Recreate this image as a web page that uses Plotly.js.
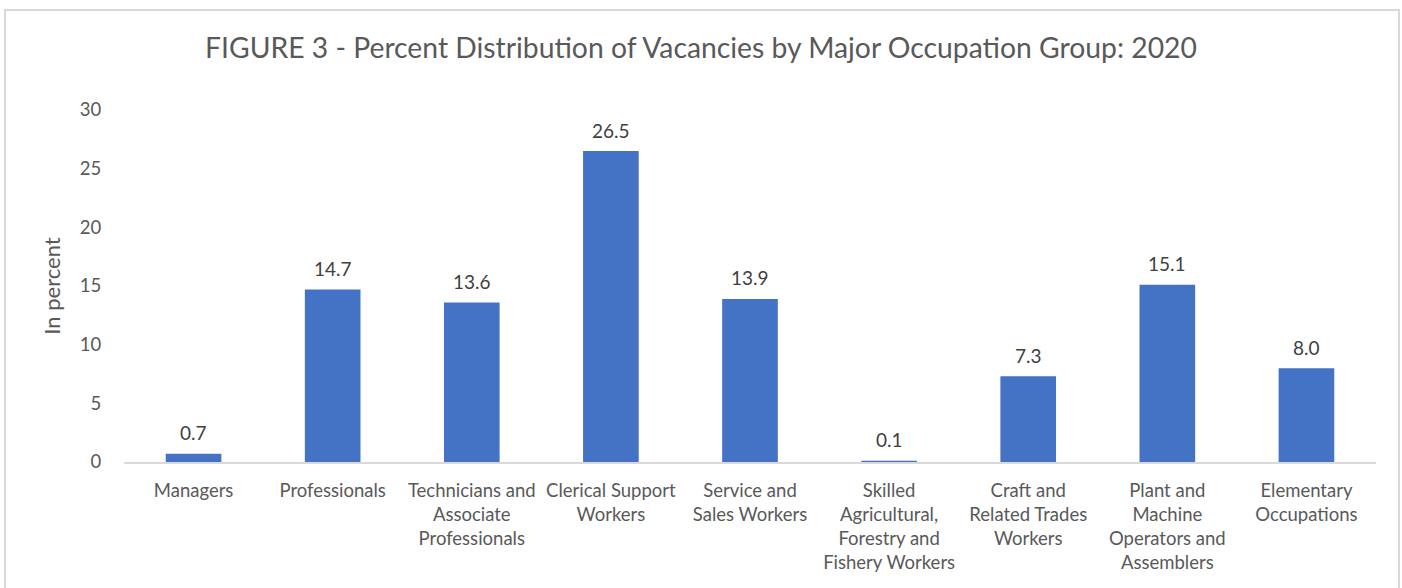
<!DOCTYPE html>
<html>
<head>
<meta charset="utf-8">
<script src="https://cdn.plot.ly/plotly-3.0.1.min.js"></script>
<style>
  html, body { margin: 0; padding: 0; background: #ffffff; overflow: hidden; }
  #chart { width: 1402px; height: 588px; }
  #frame { position: absolute; left: 4px; top: 9px; width: 1392px; height: 600px;
           border: 2px solid #d9d9d9; pointer-events: none; box-sizing: content-box; }
</style>
</head>
<body>
<div id="chart"></div>
<div id="frame"></div>
<script>
const categories = [
  "Managers",
  "Professionals",
  "Technicians and<br>Associate<br>Professionals",
  "Clerical Support<br>Workers",
  "Service and<br>Sales Workers",
  "Skilled<br>Agricultural,<br>Forestry and<br>Fishery Workers",
  "Craft and<br>Related Trades<br>Workers",
  "Plant and<br>Machine<br>Operators and<br>Assemblers",
  "Elementary<br>Occupations"
];
const values = [0.7, 14.7, 13.6, 26.5, 13.9, 0.1, 7.3, 15.1, 8.0];
const yTicks = [0, 5, 10, 15, 20, 25, 30];
const titleText = "FIGURE 3 - Percent Distribution of Vacancies by Major Occupation Group: 2020";
const yTitle = "In percent";

const FONT = "Lato, 'Open Sans', sans-serif";
const TXT = "#595959";

const trace = {
  type: "bar",
  x: categories,
  y: values,
  marker: { color: "#4472C4", line: { width: 0 } },
  width: 0.4,
  hoverinfo: "x+y"
};

const annotations = categories.map((c, i) => ({
  x: c, y: values[i], xref: "x", yref: "y",
  text: values[i].toFixed(1),
  showarrow: false, yanchor: "middle", yshift: 21,
  font: { family: FONT, size: 19, color: "#404040" }
}));

const layout = {
  width: 1402, height: 588,
  margin: { l: 124, r: 26, t: 109.5, b: 125.5 },
  paper_bgcolor: "#ffffff", plot_bgcolor: "#ffffff",
  showlegend: false,
  bargap: 0.6,
  title: {
    text: titleText,
    font: { family: FONT, size: 28.3, color: TXT },
    x: 701 / 1402, xanchor: "center", xref: "container",
    y: 1 - 48 / 588, yanchor: "middle", yref: "container"
  },
  xaxis: {
    type: "category",
    showgrid: false, zeroline: false,
    showline: true, linecolor: "#d9d9d9", linewidth: 1.5,
    ticks: "outside", ticklen: 11, tickcolor: "rgba(0,0,0,0)",
    tickfont: { family: FONT, size: 18.5, color: TXT },
    tickangle: 0, automargin: false
  },
  yaxis: {
    range: [0, 30],
    tickvals: yTicks, ticktext: yTicks.map(String),
    showgrid: false, zeroline: false, showline: false,
    ticks: "outside", ticklen: 18, tickcolor: "rgba(0,0,0,0)",
    tickfont: { family: FONT, size: 18.5, color: TXT },
    title: { text: yTitle, font: { family: FONT, size: 22, color: TXT }, standoff: 13 },
    automargin: false
  },
  annotations: annotations
};

Plotly.newPlot("chart", [trace], layout, { displayModeBar: false, staticPlot: true });
</script>
</body>
</html>
